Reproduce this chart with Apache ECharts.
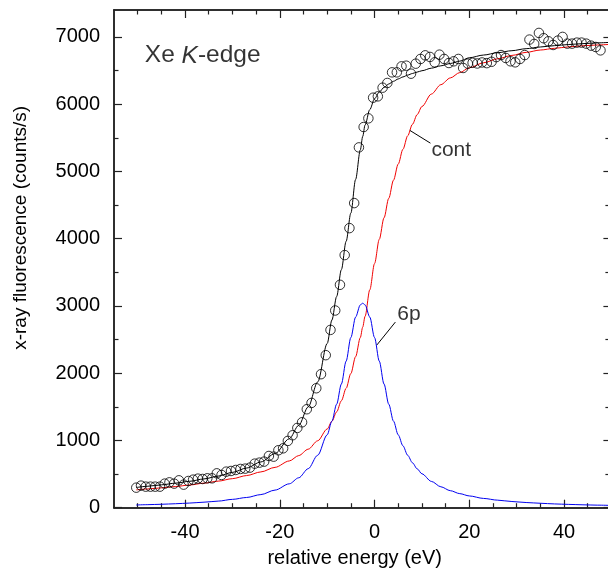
<!DOCTYPE html>
<html>
<head>
<meta charset="utf-8">
<script src="https://cdn.jsdelivr.net/npm/echarts@6/dist/echarts.min.js"></script>
<style>
  html, body { margin: 0; padding: 0; background: #fff; }
  #chart { width: 608px; height: 569px; }
</style>
</head>
<body>
<div id="chart"></div>
<script>
// Measured fluorescence (open circles)
const obsX = [-50.3,-49.3,-48.3,-47.3,-46.3,-45.3,-44.3,-43.3,-42.3,-41.3,
  -40.3,-39.3,-38.3,-37.3,-36.3,-35.3,-34.3,-33.3,-32.3,-31.3,
  -30.3,-29.3,-28.3,-27.3,-26.3,-25.3,-24.3,-23.3,-22.3,-21.3,
  -20.3,-19.3,-18.3,-17.3,-16.3,-15.3,-14.3,-13.3,-12.3,-11.3,
  -10.3,-9.3,-8.3,-7.3,-6.3,-5.3,-4.3,-3.3,-2.3,-1.3,
  -0.3,0.7,1.7,2.7,3.7,4.7,5.7,6.7,7.7,8.7,
  9.7,10.7,11.7,12.7,13.7,14.7,15.7,16.7,17.7,18.7,
  19.7,20.7,21.7,22.7,23.7,24.7,25.7,26.7,27.7,28.7,
  29.7,30.7,31.7,32.7,33.7,34.7,35.7,36.7,37.7,38.7,
  39.7,40.7,41.7,42.7,43.7,44.7,45.7,46.7,47.7];
const obsY = [298,328,313,313,313,313,358,377,358,407,
  343,397,417,432,427,437,437,511,487,536,
  546,561,576,581,596,655,670,685,769,759,
  854,883,993,1077,1186,1270,1464,1558,1776,1985,
  2268,2644,2932,3314,3756,4157,4529,5357,5660,5789,
  6096,6116,6245,6315,6473,6473,6562,6572,6453,6602,
  6672,6726,6702,6622,6736,6672,6612,6637,6672,6538,
  6602,6615,6605,6620,6610,6630,6700,6730,6687,6637,
  6622,6672,6730,6960,6895,7059,6980,6935,6880,6945,
  7000,6900,6900,6915,6915,6900,6870,6850,6800];

// Model curves sampled on a common energy grid
const fitX = [-50.3,-48,-45,-42,-39,-36,-33,-30,-27,-24,
  -21,-18,-16,-14,-12,-10,-9,-8,-7,-6,
  -5,-4,-3,-2.5,-2,-1,0,1,2,3,
  4,5,6,7,8,9,10,12,14,16,
  18,20,23,26,29,32,35,38,41,44,
  47,50];
// continuum step ("cont")
const contY = [265,278,295,315,338,365,395,432,478,532,
  600,695,775,870,995,1170,1285,1425,1590,1775,
  1995,2245,2530,2685,2845,3240,3630,3990,4310,4600,
  4870,5110,5330,5530,5700,5845,5965,6150,6290,6390,
  6470,6540,6615,6675,6725,6770,6805,6830,6852,6868,
  6880,6890];
// 6p resonance
const peakY = [40,45,51,59,69,82,98,124,152,195,
  262,355,445,580,780,1083,1287,1539,1839,2179,
  2530,2834,3016,3040,3016,2834,2530,2179,1839,1539,
  1287,1083,920,779,668,578,504,391,311,253,
  209,175,138,112,92,77,66,56,49,43,
  38,34];
// total fit
const fitY = [300,318,340,365,393,428,470,525,590,680,
  805,1025,1225,1500,1870,2440,2790,3140,3540,3960,
  4380,4880,5320,5520,5690,5920,6080,6180,6250,6300,
  6340,6375,6405,6432,6456,6477,6497,6535,6570,6605,
  6640,6690,6730,6765,6795,6825,6850,6870,6887,6900,
  6911,6920];

// Tick positions
const xMajor = [-40, -20, 0, 20, 40];
const xMinor = [-50, -45, -35, -30, -25, -15, -10, -5, 5, 10, 15, 25, 30, 35, 45];
const yMajor = [0, 1000, 2000, 3000, 4000, 5000, 6000, 7000];
const yMinor = [500, 1500, 2500, 3500, 4500, 5500, 6500];

// Annotation anchors (data space)
const contLeader = [[7.45, 5610], [11.8, 5420]];
const peakLeader = [[0.5, 2420], [4.4, 2760]];
const notes = [
  { value: [12.0, 5310], text: 'cont' },
  { value: [4.8, 2880], text: '6p' }
];
const titlePos = [-48.5, 6720];

const FONT = '"Liberation Sans", Arial, Helvetica, sans-serif';
const AX = '#222';
const TXT = '#000';

const zip = (xs, ys) => xs.map((x, i) => [x, ys[i]]);

function xAxisDef(pos, ticks, len, labels) {
  return {
    type: 'value', position: pos, min: -55, max: 50,
    axisLine: { show: true, onZero: false, lineStyle: { color: AX, width: 1.5 } },
    axisTick: { show: true, inside: true, length: len, customValues: ticks,
      lineStyle: { color: AX, width: 1.2 } },
    axisLabel: labels ? { show: true, customValues: ticks, margin: 15,
      formatter: v => String(v),
      fontFamily: FONT, fontSize: 20, color: TXT } : { show: false },
    splitLine: { show: false }
  };
}
function yAxisDef(pos, ticks, len, labels) {
  return {
    type: 'value', position: pos, min: 0, max: 7400,
    axisLine: { show: true, onZero: false, lineStyle: { color: AX, width: 1.5 } },
    axisTick: { show: true, inside: true, length: len, customValues: ticks,
      lineStyle: { color: AX, width: 1.2 } },
    axisLabel: labels ? { show: true, customValues: ticks, margin: 14,
      formatter: v => String(v),
      fontFamily: FONT, fontSize: 20, color: TXT } : { show: false },
    splitLine: { show: false }
  };
}

const xAxes = [
  xAxisDef('bottom', xMajor, 8, true),
  xAxisDef('bottom', xMinor, 4.5, false),
  xAxisDef('top', xMajor, 8, false),
  xAxisDef('top', xMinor, 4.5, false)
];
xAxes[0].name = 'relative energy (eV)';
xAxes[0].nameLocation = 'middle';
xAxes[0].nameGap = 41;
xAxes[0].nameTextStyle = { fontFamily: FONT, fontSize: 20, color: TXT, padding: [0, 16, 0, 0] };

const yAxes = [
  yAxisDef('left', yMajor, 8, true),
  yAxisDef('left', yMinor, 4.5, false),
  yAxisDef('right', yMajor, 8, false),
  yAxisDef('right', yMinor, 6, false)
];
yAxes[0].name = 'x-ray fluorescence (counts/s)';
yAxes[0].nameLocation = 'middle';
yAxes[0].nameGap = 84;
yAxes[0].nameTextStyle = { fontFamily: FONT, fontSize: 19, color: TXT, padding: [0, 0, 0, 62] };

const chart = echarts.init(document.getElementById('chart'), null, { renderer: 'canvas' });
chart.setOption({
  animation: false,
  backgroundColor: '#fff',
  grid: { left: 114, top: 10, right: -3.4, bottom: 61.3, containLabel: false, outerBoundsMode: 'none' },
  xAxis: xAxes,
  yAxis: yAxes,
  series: [
    {
      name: 'cont', type: 'line', data: zip(fitX, contY),
      showSymbol: false, symbol: 'none', smooth: 0.3, smoothMonotone: 'x',
      lineStyle: { color: '#f00000', width: 1 }, z: 3
    },
    {
      name: '6p', type: 'line', data: zip(fitX, peakY),
      showSymbol: false, symbol: 'none', smooth: 0.3, smoothMonotone: 'x',
      lineStyle: { color: '#0000f0', width: 1 }, z: 3
    },
    {
      name: 'fit', type: 'line', data: zip(fitX, fitY),
      showSymbol: false, symbol: 'none', smooth: 0.3, smoothMonotone: 'x',
      lineStyle: { color: '#000', width: 1 }, z: 4
    },
    {
      name: 'data', type: 'scatter', data: zip(obsX, obsY),
      symbol: 'circle', symbolSize: 9.5,
      itemStyle: { color: 'rgba(0,0,0,0)', borderColor: '#000', borderWidth: 1 }, z: 5
    },
    {
      name: 'cont leader', type: 'line', data: contLeader, showSymbol: false, symbol: 'none',
      lineStyle: { color: '#000', width: 1 }, z: 4
    },
    {
      name: '6p leader', type: 'line', data: peakLeader, showSymbol: false, symbol: 'none',
      lineStyle: { color: '#000', width: 1 }, z: 4
    },
    {
      name: 'notes', type: 'scatter', symbolSize: 0,
      data: notes.map(n => ({ value: n.value, name: n.text })),
      label: { show: true, position: 'right', distance: 0, formatter: p => p.name,
        fontFamily: FONT, fontSize: 21, color: TXT }, z: 6
    },
    {
      name: 'title', type: 'scatter', symbolSize: 0,
      data: [{ value: titlePos }],
      label: { show: true, position: 'right', distance: 0,
        formatter: '{a|Xe }{b|K}{a|-edge}',
        rich: {
          a: { fontFamily: FONT, fontSize: 24.5, color: TXT },
          b: { fontFamily: FONT, fontSize: 24.5, color: TXT, fontStyle: 'italic' }
        } }, z: 6
    }
  ]
});
</script>
</body>
</html>
